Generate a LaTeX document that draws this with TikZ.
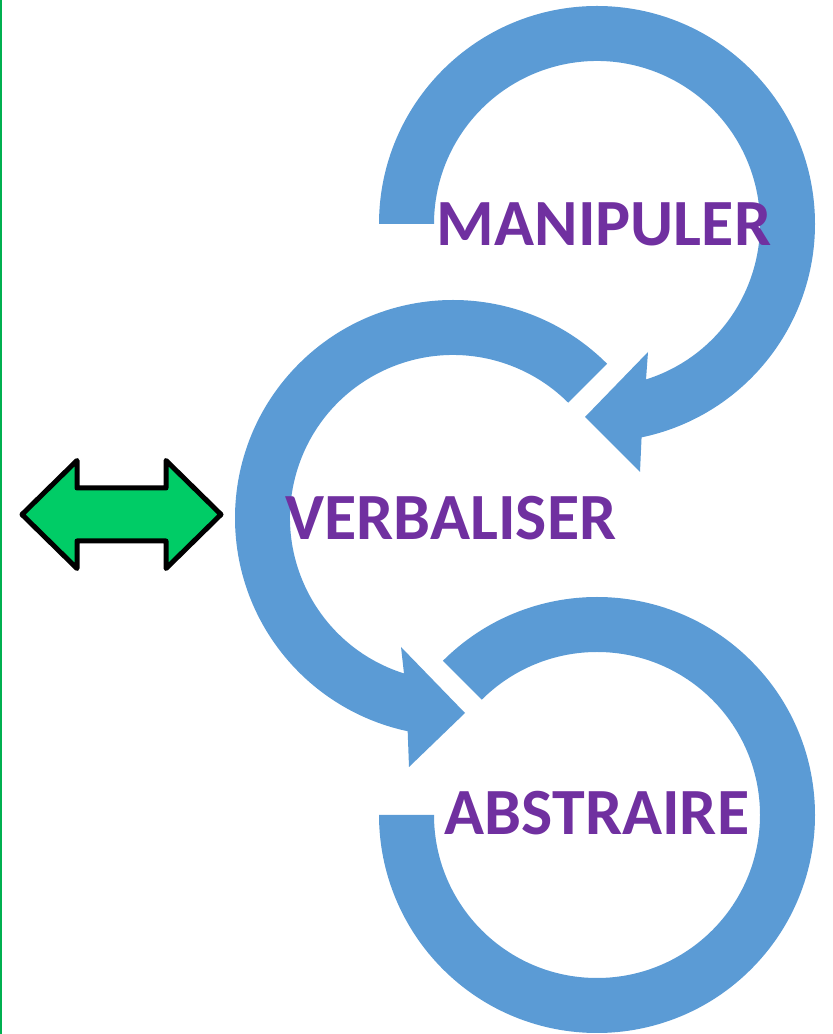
\documentclass[tikz,border=0pt]{standalone}
\usepackage{fontspec}
\usepackage{tikz}
\usetikzlibrary{calc}
\newfontfamily\stepfont{Carlito}
\definecolor{ringblue}{HTML}{5B9BD5}
\definecolor{wordpurple}{HTML}{7030A0}
\definecolor{arrowgreen}{HTML}{00CC66}
\definecolor{edgegreen}{HTML}{00B050}
\newcommand{\stepword}[1]{\stepfont\bfseries\fontsize{66}{79}\selectfont #1}

\tikzset{
  ring/.style={fill=ringblue},
  word/.style={text=wordpurple,anchor=base,inner sep=0pt},
  swap/.style={fill=arrowgreen,draw=black,line width=5pt,line join=round}
}

\begin{document}
\begin{tikzpicture}[x=1pt,y=1pt]
      \useasboundingbox (0,0) rectangle (833,1034);
      \draw[edgegreen,line width=2pt] (1,0) -- (1,1034);

      \coordinate (ctop) at (597,810);
      \coordinate (cmid) at (453,516);
      \coordinate (cbot) at (597,219);

      \fill[ring] ($(ctop)+(180:218)$) arc[start angle=180,end angle=-78.2,radius=218]
        -- (640,562) -- (585,617) -- (648,682)
        -- ($(ctop)+(-72.5:163)$) arc[start angle=-72.5,end angle=180,radius=163] -- cycle;
      \fill[ring] ($(cmid)+(45:218)$) arc[start angle=45,end angle=258,radius=218]
        -- (409,267) -- (465,321) -- (401,387)
        -- ($(cmid)+(252.5:163)$) arc[start angle=252.5,end angle=45,radius=163] -- cycle;
      \fill[ring] ($(cbot)+(135:218)$) arc[start angle=135,end angle=-180,radius=218]
        -- ($(cbot)+(180:163)$) arc[start angle=-180,end angle=135,radius=163] -- cycle;

      \node[word] (manip) at (604,788) {\stepword{MANIPULER}};
      \node[word] (verb) at (451,494) {\stepword{VERBALISER}};
      \node[word] (abstr) at (597,199) {\stepword{ABSTRAIRE}};

      \draw[swap] (22,519.5) -- (77,573.5) -- (77,546) -- (166,546) -- (166,573.5)
        -- (221,519.5) -- (166,465.5) -- (166,493) -- (77,493) -- (77,465.5) -- cycle;
    \end{tikzpicture}
\end{document}
